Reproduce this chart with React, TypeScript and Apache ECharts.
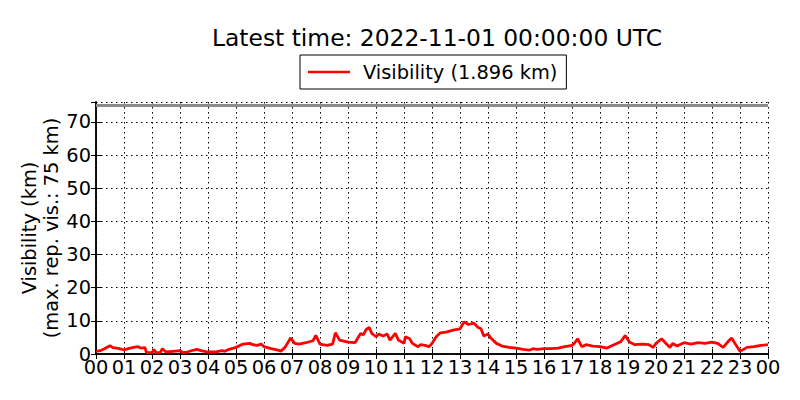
import React, { useEffect, useRef } from "react";
import * as echarts from "echarts";

const TITLE = "Latest time: 2022-11-01 00:00:00 UTC";
const SERIES_NAME = "Visibility (1.896 km)";
const Y_LABEL_LINES = ["Visibility (km)", "(max. rep. vis.: 75 km)"];
const MAX_REP_VIS = 75;

const hours = [
  0, 0.15, 0.3, 0.5, 0.6, 0.75, 0.9, 1.0, 1.15, 1.3, 1.5, 1.6, 1.75, 1.8, 2.0, 2.07, 2.15, 2.3, 2.37, 2.5,
  2.75, 3.0, 3.1, 3.25, 3.5, 3.6, 3.75, 4.0, 4.25, 4.5, 4.6, 4.75, 5.0, 5.25, 5.5, 5.6, 5.75, 5.9, 6.0, 6.25,
  6.5, 6.6, 6.75, 6.95, 7.1, 7.25, 7.5, 7.75, 7.85, 8.0, 8.1, 8.25, 8.45, 8.55, 8.7, 9.0, 9.25, 9.45, 9.55, 9.65,
  9.76, 9.85, 10.0, 10.1, 10.25, 10.4, 10.5, 10.69, 10.8, 11.0, 11.05, 11.2, 11.3, 11.5, 11.6, 11.75, 11.9, 12.0,
  12.15, 12.3, 12.5, 12.75, 13.0, 13.15, 13.3, 13.5, 13.65, 13.75, 13.85, 14.0, 14.1, 14.3, 14.5, 14.75, 15.0,
  15.25, 15.5, 15.6, 15.75, 16.0, 16.25, 16.5, 16.75, 17.0, 17.1, 17.2, 17.35, 17.5, 17.75, 18.0, 18.25, 18.5,
  18.75, 18.9, 19.05, 19.25, 19.5, 19.75, 19.9, 20.0, 20.2, 20.4, 20.5, 20.6, 20.75, 21.0, 21.25, 21.5, 21.75,
  22.0, 22.2, 22.4, 22.6, 22.7, 22.85, 23.0, 23.25, 23.5, 23.75, 24.0,
];

const visibility = [
  0.8, 1.0, 1.6, 2.5, 1.9, 1.8, 1.5, 1.2, 1.6, 1.9, 2.2, 1.8, 1.9, 0.4, 0.4, 1.4, 0.3, 0.5, 1.6, 0.6,
  0.8, 1.0, 0.4, 0.6, 1.2, 1.4, 1.0, 0.6, 0.6, 1.0, 0.8, 1.4, 2.0, 3.0, 3.2, 2.8, 2.6, 3.0, 2.2, 1.6,
  1.2, 0.8, 2.0, 4.8, 3.2, 3.0, 3.4, 4.0, 5.6, 3.0, 2.8, 2.6, 3.0, 6.4, 4.2, 3.6, 3.4, 6.2, 5.8, 7.4,
  8.0, 6.2, 5.2, 6.0, 5.4, 6.0, 4.2, 6.2, 4.2, 3.2, 5.2, 4.6, 3.2, 2.2, 2.8, 2.6, 2.2, 3.2,
  5.2, 6.4, 6.6, 7.2, 7.6, 9.7, 8.9, 9.3, 8.0, 7.6, 5.4, 6.0, 4.8, 3.2, 2.4, 2.0, 1.8,
  1.4, 1.2, 1.6, 1.4, 1.6, 1.6, 1.8, 2.2, 2.6, 3.4, 4.6, 2.2, 2.8, 2.4, 2.2, 1.8, 2.8,
  3.8, 5.6, 3.6, 2.8, 3.0, 2.8, 2.0, 3.2, 4.6, 2.8, 2.0, 3.2, 2.4, 3.4, 3.0, 3.4, 3.2,
  3.6, 3.2, 2.0, 4.0, 4.8, 2.8, 0.8, 2.0, 2.2, 2.6, 2.8,
];

const FONT = "DejaVu Sans";

export default function App() {
  const ref = useRef<HTMLDivElement>(null);
  useEffect(() => {
    if (!ref.current) return;
    const chart = echarts.init(ref.current, undefined, { renderer: "svg" });
    const gridLeft = 96;
    const gridRight = 32;
    const gridTop = 102;
    const gridBottom = 46;
    const plotCenterX = gridLeft + (800 - gridLeft - gridRight) / 2;
    const plotCenterY = gridTop + (400 - gridTop - gridBottom) / 2;
    const hourFmt = (v: number) => String(Math.round(v) % 24).padStart(2, "0");
    const dotted = { color: "#000", width: 1, type: [1.5, 3.5] as number[] };
    const axisLine = { show: true, lineStyle: { color: "#000", width: 1.5 } };
    const tick = { show: true, inside: true, length: 5, lineStyle: { color: "#000", width: 1 } };

    chart.setOption({
      animation: false,
      backgroundColor: "#fff",
      title: {
        text: TITLE,
        left: plotCenterX,
        top: 21,
        textAlign: "center",
        textStyle: { fontFamily: FONT, fontSize: 23.4, fontWeight: "normal", color: "#000" },
      },
      legend: {
        left: 300,
        top: 55,
        orient: "horizontal",
        padding: [7, 9, 7, 8],
        borderColor: "#000",
        borderWidth: 1,
        borderRadius: 0,
        backgroundColor: "#fff",
        itemWidth: 42,
        itemHeight: 2.5,
        icon: "rect",
        data: [{ name: SERIES_NAME, icon: "rect", itemStyle: { color: "#ff0000" } }],
        textStyle: {
          fontFamily: FONT,
          fontSize: 19.4,
          color: "#000",
          lineHeight: 20,
          padding: [0, 0, 0, 8],
        },
      },
      grid: { left: gridLeft, right: gridRight, top: gridTop, bottom: gridBottom },
      xAxis: [
        {
          type: "value",
          position: "bottom",
          min: 0,
          max: 24,
          interval: 1,
          axisLine,
          axisTick: tick,
          axisLabel: {
            formatter: hourFmt,
            fontFamily: FONT,
            fontSize: 19.4,
            color: "#000",
            margin: 4,
          },
          splitLine: { show: true, lineStyle: dotted },
        },
        {
          type: "value",
          position: "top",
          min: 0,
          max: 24,
          interval: 1,
          axisLine,
          axisTick: tick,
          axisLabel: { show: false },
          splitLine: { show: false },
        },
      ],
      yAxis: [
        {
          type: "value",
          position: "left",
          min: 0,
          max: 76,
          interval: 10,
          axisLine,
          axisTick: tick,
          axisLabel: {
            fontFamily: FONT,
            fontSize: 19.4,
            color: "#000",
            margin: 5,
            showMaxLabel: false,
          },
          splitLine: { show: true, lineStyle: dotted },
        },
        {
          type: "value",
          position: "right",
          min: 0,
          max: 76,
          interval: 10,
          axisLine,
          axisTick: tick,
          axisLabel: { show: false },
          splitLine: { show: false },
        },
      ],
      graphic: [
        {
          type: "text",
          x: 40,
          y: plotCenterY,
          rotation: Math.PI / 2,
          style: {
            text: Y_LABEL_LINES.join("\n"),
            fontFamily: FONT,
            fontSize: 19.4,
            lineHeight: 22,
            fill: "#000",
            align: "center",
            verticalAlign: "middle",
          },
        },
      ],
      series: [
        {
          name: SERIES_NAME,
          type: "line",
          xAxisIndex: 0,
          yAxisIndex: 0,
          data: hours.map((h, i) => [h, visibility[i]]),
          showSymbol: false,
          symbol: "none",
          lineStyle: { color: "#ff0000", width: 2.8 },
          itemStyle: { color: "#ff0000" },
          z: 3,
          markLine: {
            silent: true,
            symbol: "none",
            label: { show: false },
            lineStyle: { color: "#8c8c8c", width: 3, type: "solid" },
            data: [{ yAxis: MAX_REP_VIS }],
          },
        },
      ],
    });
    return () => chart.dispose();
  }, []);
  return (
    <div
      ref={ref}
      style={{ position: "fixed", left: 0, top: 0, width: 800, height: 400, background: "#fff" }}
    />
  );
}
